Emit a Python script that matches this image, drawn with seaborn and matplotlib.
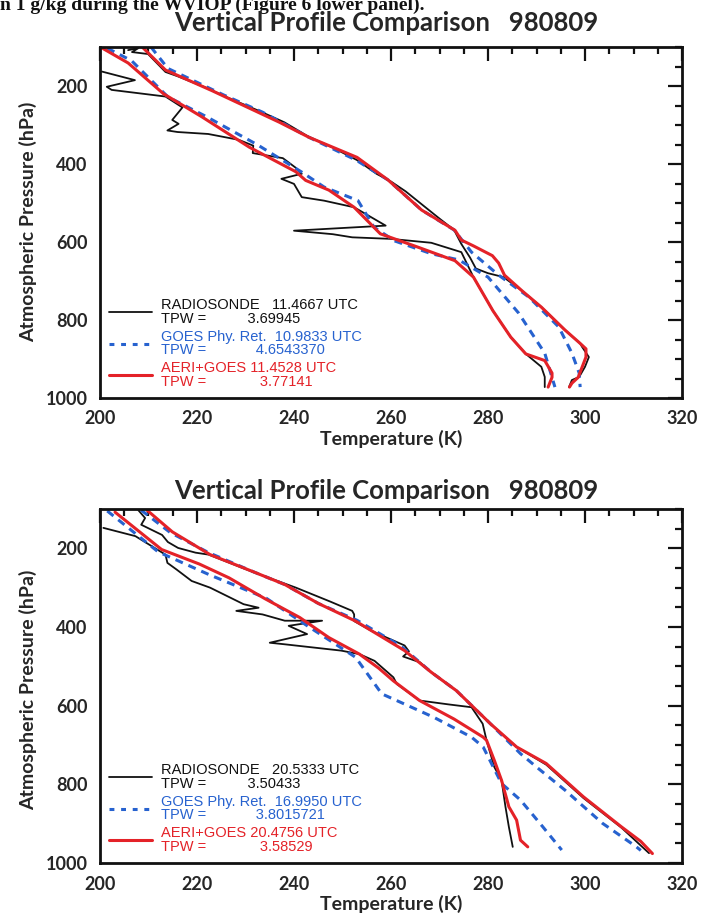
import matplotlib
matplotlib.use("Agg")
import matplotlib.pyplot as plt
from matplotlib.lines import Line2D
from matplotlib.ticker import MultipleLocator
import seaborn as sns

# ---------------- DATA ----------------
title_text = "Vertical Profile Comparison   980809"
caption_text = "n 1 g/kg during the WVIOP (Figure 6 lower panel)."
x_ticks = [200, 220, 240, 260, 280, 300, 320]
y_ticks = [200, 400, 600, 800, 1000]

# ---- Top panel ----
top_raob_temp_T = [205.8, 207.9, 206.6, 209.9, 213.5, 216.0, 218.0, 222.0, 226.0, 233.0, 238.0, 243.0, 248.0,
                   253.0, 257.0, 260.0, 263.0, 266.5, 270.0, 273.0, 274.5, 276.3, 277.5, 280.0, 283.2,
                   287.0, 291.0, 295.9, 299.0, 299.4, 300.8, 300.0, 298.8, 297.3, 296.7]
top_raob_temp_P = [108, 103, 113, 118, 164, 175, 185, 205, 228, 265, 293, 330, 358,
                   390, 425, 445, 470, 505, 540, 569, 605, 640, 668, 680, 690,
                   725, 767, 826, 860, 869, 895, 920, 946, 954, 972]
top_raob_dew_T = [200.4, 207.2, 201.4, 202.4, 213.5, 217.0, 214.9, 216.2, 213.9, 216.0, 222.3, 228.6, 231.6,
                  231.5, 237.7, 240.4, 241.6, 237.4, 240.0, 241.6, 246.2, 252.4, 258.9, 240.0, 248.0, 252.0,
                  260.0, 268.3, 274.5, 277.0, 281.0, 284.7, 287.8, 291.0, 291.7, 291.7]
top_raob_dew_P = [163, 185, 202, 210, 227, 255, 287, 297, 314, 318, 323, 338, 353,
                  372, 385, 410, 425, 438, 451, 485, 494, 511, 558, 571, 580, 588,
                  592, 602, 626, 690, 776, 844, 887, 920, 946, 972]
top_goes_temp_T = [210.5, 214.0, 225.5, 233.5, 243.0, 252.8, 259.4, 266.3, 273.0, 276.6, 282.2, 288.4,
                   294.6, 297.3, 298.8, 299.0]
top_goes_temp_P = [100, 155, 223, 267, 331, 390, 441, 518, 569, 626, 685, 741,
                   818, 885, 936, 972]
top_goes_dew_T = [201.5, 206.5, 214.0, 222.0, 232.5, 241.5, 246.2, 253.2, 256.5, 260.7, 268.3, 274.0,
                  280.0, 286.3, 291.7, 293.8]
top_goes_dew_P = [103, 135, 228, 279, 351, 420, 459, 494, 562, 597, 630, 646,
                  690, 782, 885, 972]
top_aeri_temp_T = [208.7, 213.5, 223.1, 237.0, 243.0, 253.0, 259.4, 266.3, 273.2, 274.5, 277.0, 280.9,
                   282.2, 283.4, 287.0, 291.0, 295.9, 299.0, 300.2, 300.2, 298.6, 297.3, 296.8]
top_aeri_temp_P = [100, 159, 212, 293, 331, 383, 441, 518, 570, 595, 610, 635,
                   654, 685, 725, 767, 826, 860, 874, 895, 947, 962, 972]
top_aeri_dew_T = [200.2, 205.8, 213.1, 221.0, 230.8, 240.4, 242.4, 247.2, 252.4, 257.8, 265.5, 273.2,
                  277.0, 281.0, 284.7, 287.8, 291.7, 293.2, 293.2, 292.4]
top_aeri_dew_P = [101, 141, 220, 279, 357, 420, 442, 467, 511, 579, 613, 648,
                  690, 776, 844, 887, 904, 936, 947, 972]
top_labels = ["RADIOSONDE   11.4667 UTC\nTPW =          3.69945",
              "GOES Phy. Ret.  10.9833 UTC\nTPW =            4.6543370",
              "AERI+GOES 11.4528 UTC\nTPW =             3.77141"]

# ---- Bottom panel ----
bot_raob_temp_T = [207.9, 209.3, 208.5, 212.8, 214.0, 216.1, 219.7, 222.4, 231.5, 240.4, 247.4, 252.0,
                   252.4, 252.4, 256.0, 262.8, 263.7, 262.5, 266.0, 268.3, 273.5, 280.5, 285.9, 292.0,
                   299.7, 307.5, 313.2]
bot_raob_temp_P = [103, 123, 140, 166, 184, 199, 211, 216, 260, 300, 335, 359,
                   368, 385, 410, 447, 462, 475, 490, 515, 562, 646, 705, 750,
                   835, 910, 975]
bot_raob_dew_T = [200.7, 207.3, 213.5, 213.9, 215.8, 218.9, 222.7, 229.6, 232.7, 228.1, 233.5, 238.1,
                  245.8, 238.9, 242.7, 235.0, 238.1, 249.7, 253.5, 256.6, 260.5, 261.2, 265.9, 272.0,
                  276.6, 278.9, 279.7, 281.3, 282.8, 283.6, 284.3, 285.1]
bot_raob_dew_P = [148, 169, 216, 237, 254, 283, 300, 342, 351, 359, 368, 384,
                  384, 397, 418, 440, 444, 460, 469, 486, 528, 545, 587, 597,
                  604, 646, 688, 756, 790, 857, 908, 959]
bot_goes_temp_T = [208.5, 214.5, 222.4, 231.5, 238.1, 245.0, 253.0, 262.1, 268.3, 273.5, 280.5, 286.7,
                   290.5, 295.9, 303.6, 310.5, 311.5]
bot_goes_temp_P = [103, 160, 211, 259, 292, 340, 383, 449, 515, 562, 646, 722,
                   761, 815, 899, 958, 968]
bot_goes_dew_T = [201.5, 212.0, 222.7, 234.3, 242.5, 252.7, 258.1, 262.8, 268.9, 276.6, 279.0, 282.8,
                  286.7, 291.3, 295.2]
bot_goes_dew_P = [105, 209, 268, 327, 395, 477, 570, 596, 630, 680, 705, 798,
                  840, 908, 967]
bot_aeri_temp_T = [209.7, 214.9, 222.7, 231.5, 238.1, 245.0, 252.7, 262.8, 268.3, 273.5, 280.5, 285.9,
                   292.0, 295.9, 299.7, 307.5, 311.5, 313.9]
bot_aeri_temp_P = [103, 158, 216, 259, 292, 340, 385, 460, 515, 562, 646, 705,
                   747, 790, 832, 908, 945, 976]
bot_aeri_dew_T = [203.1, 212.7, 220.5, 226.6, 234.0, 241.2, 247.2, 253.5, 257.5, 260.5, 265.9, 273.0,
                  279.0, 279.7, 281.3, 282.8, 284.3, 285.9, 286.7, 288.2]
bot_aeri_dew_P = [108, 203, 240, 275, 328, 376, 427, 469, 505, 537, 587, 634,
                  680, 688, 739, 790, 857, 891, 942, 959]
bot_labels = ["RADIOSONDE   20.5333 UTC\nTPW =          3.50433",
              "GOES Phy. Ret.  16.9950 UTC\nTPW =            3.8015721",
              "AERI+GOES 20.4756 UTC\nTPW =             3.58529"]

# ---------------- STYLE ----------------
sns.set_style("white")
plt.rcParams["font.family"] = ["Lato", "DejaVu Sans"]

BLACK = "#111111"
BLUE = "#2762cf"
RED = "#e42228"
DASH = (0, (2.6, 2.0))

W, H = 704, 915
fig = plt.figure(figsize=(W / 100, H / 100), dpi=100)

fig.text(0.0, 1 - 10 / H, caption_text, family="Liberation Serif", fontsize=14,
         fontweight="bold", ha="left", va="baseline", color="#111111")


def panel(ax, data, labels, title_base, ylab_y):
    (rt_T, rt_P, rd_T, rd_P, gt_T, gt_P, gd_T, gd_P, at_T, at_P, ad_T, ad_P) = data
    for T, P in [(rt_T, rt_P), (rd_T, rd_P)]:
        sns.lineplot(x=T, y=P, sort=False, estimator=None, color=BLACK, lw=1.3, ax=ax)
    for T, P in [(gt_T, gt_P), (gd_T, gd_P)]:
        sns.lineplot(x=T, y=P, sort=False, estimator=None, color=BLUE, lw=2.2,
                     linestyle=DASH, ax=ax)
    for T, P in [(at_T, at_P), (ad_T, ad_P)]:
        sns.lineplot(x=T, y=P, sort=False, estimator=None, color=RED, lw=2.2, ax=ax)

    ax.set_xlim(200, 320)
    ax.set_ylim(1000, 100)
    ax.set_xticks(x_ticks)
    ax.set_yticks(y_ticks)
    ax.xaxis.set_minor_locator(MultipleLocator(5))
    ax.yaxis.set_minor_locator(MultipleLocator(50))
    ax.tick_params(which="both", direction="in", top=True, right=True, width=1.6, color=BLACK)
    ax.tick_params(which="major", length=10, labelsize=13, pad=9)
    ax.tick_params(which="minor", length=5)
    for lab in ax.get_xticklabels() + ax.get_yticklabels():
        lab.set_fontweight("bold")
    for sp in ax.spines.values():
        sp.set_linewidth(2.0)
        sp.set_color(BLACK)
    ax.set_xlabel("Temperature (K)", fontsize=14, fontweight="bold", labelpad=2)
    ax.set_ylabel("")
    fig.text(28 / W, 1 - ylab_y / H, "Atmospheric Pressure (hPa)", rotation=90,
             fontsize=14, fontweight="bold", ha="center", va="center")
    fig.text(386 / W, 1 - title_base / H, title_text, fontsize=18.5, fontweight="bold",
             ha="center", va="baseline")

    handles = [Line2D([], [], color=BLACK, lw=1.3),
               Line2D([], [], color=BLUE, lw=2.2, linestyle=(0, (1.6, 2.2))),
               Line2D([], [], color=RED, lw=2.2)]
    leg = ax.legend(handles, labels, loc="lower left", frameon=False,
                    prop={"family": "Liberation Sans", "size": 10.5},
                    labelcolor=[BLACK, BLUE, RED], handlelength=2.9,
                    handletextpad=0.65, labelspacing=0.3, borderaxespad=0.25,
                    bbox_to_anchor=(0.0, 0.0))
    for t in leg.get_texts():
        t.set_linespacing(0.92)


ax1 = fig.add_axes([100 / W, 1 - 398 / H, 582 / W, 351 / H])
panel(ax1, (top_raob_temp_T, top_raob_temp_P, top_raob_dew_T, top_raob_dew_P,
            top_goes_temp_T, top_goes_temp_P, top_goes_dew_T, top_goes_dew_P,
            top_aeri_temp_T, top_aeri_temp_P, top_aeri_dew_T, top_aeri_dew_P),
      top_labels, title_base=31, ylab_y=222)

ax2 = fig.add_axes([100 / W, 1 - 863 / H, 582 / W, 354 / H])
panel(ax2, (bot_raob_temp_T, bot_raob_temp_P, bot_raob_dew_T, bot_raob_dew_P,
            bot_goes_temp_T, bot_goes_temp_P, bot_goes_dew_T, bot_goes_dew_P,
            bot_aeri_temp_T, bot_aeri_temp_P, bot_aeri_dew_T, bot_aeri_dew_P),
      bot_labels, title_base=499, ylab_y=690)

fig.savefig("out.png", dpi=100)
